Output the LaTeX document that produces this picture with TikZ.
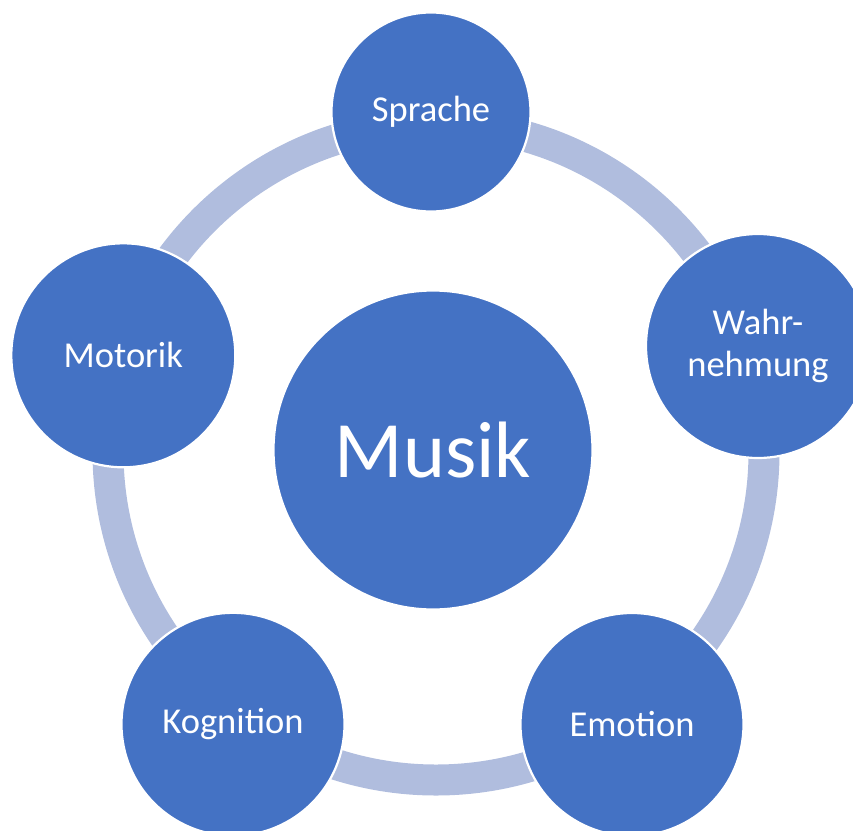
\documentclass[tikz,border=0pt]{standalone}
\usepackage{fontspec}
\setmainfont{Carlito}
\definecolor{nodeblue}{RGB}{68,114,196}
\definecolor{ringblue}{RGB}{176,189,222}
\begin{document}
\begin{tikzpicture}[x=1pt,y=-1pt,
  bub/.style={circle, fill=nodeblue, draw=white, line width=2.2pt, text=white,
    inner sep=0pt, align=center, font=\fontsize{36.5}{42}\selectfont},
  ringline/.style={draw=ringblue, line width=31pt}]
\useasboundingbox (0,0) rectangle (853,830);
\clip (0,0) rectangle (853,830);
\coordinate (ringc) at (436,452);
\draw[ringline] (ringc) circle[radius=328];
\node[bub, minimum size=199pt] (sprache) at (431,112) {Sprache};
\node[bub, minimum size=224pt] (wahr) at (758,346) {Wahr-\\nehmung};
\node[bub, minimum size=223pt] (emotion) at (632,724.5) {Emotion};
\node[bub, minimum size=223pt] (kognition) at (233,724.3) {Kognition};
\node[bub, minimum size=224pt] (motorik) at (123.3,355.3) {Motorik};
\node[bub, minimum size=319pt, font=\fontsize{80}{96}\selectfont] (musik) at (433,450) {Musik};
\end{tikzpicture}
\end{document}
